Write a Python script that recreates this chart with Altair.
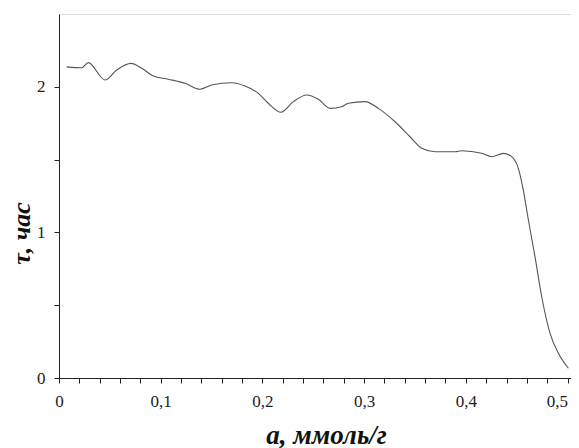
import altair as alt
import pandas as pd

a_vals = [0.0076, 0.0223, 0.0288, 0.0452, 0.0567, 0.0708, 0.0813, 0.0927, 0.1075, 0.1239,
          0.1386, 0.1500, 0.1698, 0.1829, 0.1960, 0.2058, 0.2183, 0.2304, 0.2436, 0.2550,
          0.2665, 0.2780, 0.2845, 0.3009, 0.3140, 0.3304, 0.3451, 0.3566, 0.3697, 0.3894,
          0.3960, 0.4156, 0.4255, 0.4369, 0.4451, 0.4516, 0.4565, 0.4615, 0.4680, 0.4746,
          0.4828, 0.4910, 0.5008]
tau_vals = [2.137, 2.131, 2.166, 2.047, 2.115, 2.161, 2.127, 2.074, 2.052, 2.024,
            1.983, 2.012, 2.028, 2.005, 1.955, 1.887, 1.825, 1.898, 1.944, 1.914,
            1.852, 1.863, 1.887, 1.898, 1.852, 1.760, 1.657, 1.578, 1.554, 1.554,
            1.561, 1.543, 1.520, 1.543, 1.520, 1.440, 1.291, 1.085, 0.833, 0.558,
            0.307, 0.170, 0.067]

x_ticks = [round(i * 0.02, 2) for i in range(26)]
y_ticks = [0, 0.5, 1, 1.5, 2]

df = pd.DataFrame({"a": a_vals, "tau": tau_vals})

FONT = "Liberation Serif"

x_axis = alt.Axis(
    values=x_ticks,
    labelExpr="abs(datum.value*10 - round(datum.value*10)) < 0.001 ? replace(format(datum.value, '.1~f'), '.', ',') : ''",
    labelAlign={"condition": {"test": "datum.value >= 0.499", "value": "right"}, "value": "center"},
    title="a, ммоль/г",
    titleFont=FONT, titleFontSize=27, titleFontWeight="bold", titleFontStyle="italic",
    titleColor="#111",
    titleX=267, titleY=65, titleBaseline="alphabetic", titleAnchor="middle", titleAlign="center",
    labelFont=FONT, labelFontSize=17, labelColor="#222", labelPadding=10,
    labelOverlap=False, labelFlush=False,
    tickSize=5, tickColor="#222", domainColor="#222", tickWidth=1, domainWidth=1,
    grid=False,
)
y_axis = alt.Axis(
    values=y_ticks,
    labelExpr="datum.value % 1 == 0 ? format(datum.value, 'd') : ''",
    title="τ, час",
    titleFont=FONT, titleFontSize=26, titleFontWeight="bold", titleFontStyle="italic",
    titleColor="#111",
    titleAngle=-90, titleX=-30, titleY=219, titleBaseline="alphabetic", titleAlign="center",
    labelFont=FONT, labelFontSize=17, labelColor="#222", labelPadding=9,
    labelOverlap=False,
    tickSize=5, tickColor="#222", domainColor="#222", tickWidth=1, domainWidth=1,
    grid=False,
)

chart = alt.Chart(df).mark_line(
    interpolate="monotone", color="#555", strokeWidth=1.1
).encode(
    x=alt.X("a:Q", scale=alt.Scale(domain=[0, 0.5034], nice=False, zero=False), axis=x_axis),
    y=alt.Y("tau:Q", scale=alt.Scale(domain=[0, 2.5], nice=False), axis=y_axis),
).properties(
    width=512, height=364,
    autosize=alt.AutoSizeParams(type="none"),
    padding={"left": 51, "top": 6, "right": 0, "bottom": 70},
).configure_view(stroke=None).configure(background="white")

chart.save("out.html", embed_options={"renderer": "svg", "actions": False})
